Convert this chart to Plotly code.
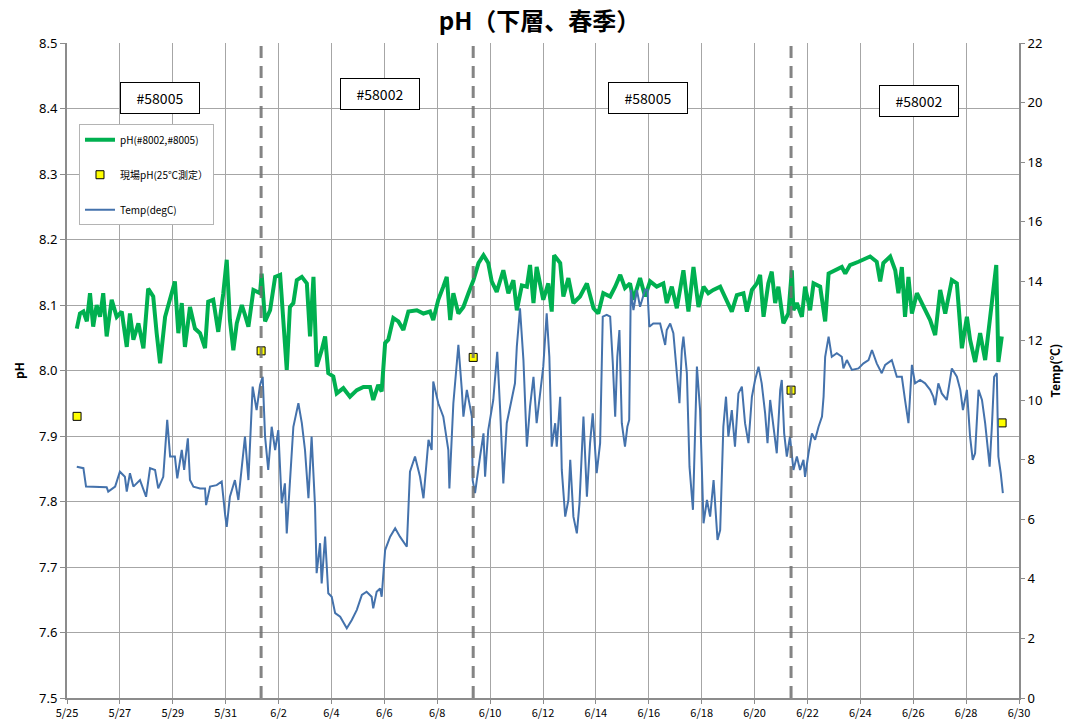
import pandas as pd
import plotly.graph_objects as go

# Elapsed time in days from 5/25 00:00
base = pd.Timestamp("2021-05-25")

ph_days = [
    0.37, 0.49, 0.62, 0.75, 0.87, 0.99, 1.12, 1.25, 1.37, 1.50,
    1.69, 1.88, 2.07, 2.26, 2.38, 2.51, 2.70, 2.89, 3.07, 3.26,
    3.39, 3.52, 3.71, 3.90, 4.08, 4.21, 4.34, 4.46, 4.65, 4.84,
    5.03, 5.22, 5.34, 5.53, 5.72, 5.91, 6.04, 6.16, 6.29, 6.42,
    6.61, 6.73, 6.86, 7.05, 7.30, 7.36, 7.49, 7.68, 7.87, 8.06,
    8.18, 8.31, 8.43, 8.56, 8.69, 8.88, 9.07, 9.19, 9.32, 9.44,
    9.63, 9.76, 9.88, 10.07, 10.20, 10.45, 10.70, 10.96, 11.21, 11.46,
    11.58, 11.77, 11.90, 12.03, 12.15, 12.34, 12.53, 12.72, 12.91, 13.23,
    13.48, 13.73, 13.85, 14.04, 14.23, 14.36, 14.49, 14.61, 14.80, 14.99,
    15.18, 15.37, 15.56, 15.75, 15.93, 16.06, 16.25, 16.50, 16.69, 16.88,
    17.01, 17.20, 17.39, 17.51, 17.64,
    17.76, 18.01, 18.20, 18.33, 18.42, 18.65, 18.77, 18.96, 19.15, 19.40,
    19.66, 19.91, 20.09, 20.28, 20.54, 20.73, 20.92, 21.10, 21.29, 21.42,
    21.67, 21.86, 22.05, 22.30, 22.55, 22.68, 22.87, 23.06, 23.31, 23.50,
    23.69, 23.88, 24.07, 24.25, 24.44, 24.70, 24.95, 25.14, 25.33, 25.58,
    25.71, 25.90, 26.09, 26.21, 26.34, 26.52, 26.65, 26.78, 26.90, 27.09,
    27.28, 27.41, 27.47, 27.60, 27.79, 27.91, 28.10, 28.23, 28.48, 28.67,
    28.80, 29.05, 29.30, 29.43, 29.61, 29.93, 30.12, 30.37, 30.62, 30.75,
    30.87, 31.13, 31.32, 31.44, 31.57, 31.69, 31.82, 31.95, 32.14, 32.39,
    32.64, 32.83, 33.02, 33.21, 33.33, 33.46, 33.65, 33.84, 34.03, 34.15,
    34.34, 34.53, 34.72, 34.91, 35.03, 35.14, 35.22, 35.35,
]
ph_values = [
    8.064, 8.087, 8.090, 8.075, 8.118, 8.067, 8.100, 8.082, 8.118, 8.052,
    8.108, 8.082, 8.090, 8.036, 8.087, 8.047, 8.072, 8.034, 8.125, 8.113,
    8.057, 8.011, 8.082, 8.108, 8.136, 8.057, 8.103, 8.036, 8.097, 8.064,
    8.057, 8.034, 8.105, 8.108, 8.059, 8.118, 8.169, 8.077, 8.031, 8.072,
    8.100, 8.085, 8.067, 8.123, 8.118, 8.148, 8.075, 8.092, 8.143, 8.146,
    8.082, 8.001, 8.097, 8.103, 8.138, 8.143, 8.133, 8.052, 8.143, 8.006,
    8.031, 8.052, 7.996, 7.991, 7.965, 7.973, 7.960, 7.970, 7.975, 7.975,
    7.955, 7.978, 7.968, 8.042, 8.047, 8.080, 8.075, 8.062, 8.090, 8.092,
    8.087, 8.090, 8.077, 8.108, 8.128, 8.143, 8.077, 8.118, 8.087, 8.097,
    8.118, 8.138, 8.164, 8.176, 8.164, 8.136, 8.120, 8.153, 8.118, 8.138,
    8.092, 8.130, 8.128, 8.161, 8.103,
    8.158, 8.108, 8.133, 8.090, 8.176, 8.164, 8.113, 8.141, 8.103, 8.113,
    8.133, 8.095, 8.087, 8.118, 8.113, 8.128, 8.146, 8.126, 8.133, 8.108,
    8.141, 8.113, 8.136, 8.128, 8.133, 8.103, 8.128, 8.095, 8.153, 8.090,
    8.158, 8.097, 8.128, 8.118, 8.123, 8.128, 8.108, 8.090, 8.115, 8.118,
    8.090, 8.123, 8.133, 8.146, 8.082, 8.133, 8.151, 8.103, 8.128, 8.072,
    8.087, 8.153, 8.092, 8.103, 8.082, 8.128, 8.092, 8.133, 8.128, 8.075,
    8.148, 8.153, 8.158, 8.148, 8.161, 8.166, 8.169, 8.174, 8.166, 8.136,
    8.164, 8.174, 8.153, 8.118, 8.158, 8.082, 8.143, 8.087, 8.118, 8.097,
    8.077, 8.054, 8.123, 8.087, 8.110, 8.138, 8.133, 8.034, 8.082, 8.047,
    8.013, 8.057, 8.016, 8.087, 8.118, 8.161, 8.013, 8.052,
]

temp_days = [
    0.37, 0.62, 0.72, 0.99, 1.50, 1.56, 1.82, 2.00, 2.19, 2.26,
    2.38, 2.51, 2.76, 2.99, 3.14, 3.33, 3.45, 3.64, 3.79, 3.90,
    4.08, 4.17, 4.34, 4.43, 4.57, 4.65, 4.78, 5.03, 5.22, 5.26,
    5.41, 5.66, 5.85, 5.98, 6.04, 6.16, 6.35, 6.48, 6.61, 6.73,
    6.86, 7.02, 7.17, 7.30, 7.40, 7.49, 7.61, 7.74, 7.87, 7.99,
    8.12, 8.24, 8.31, 8.43, 8.56, 8.75, 8.88, 9.00, 9.13, 9.25,
    9.38, 9.44, 9.57, 9.63, 9.76, 9.88, 10.01, 10.14, 10.33, 10.58,
    10.77, 10.96, 11.15, 11.33, 11.52, 11.58, 11.71, 11.84, 11.90, 12.03,
    12.22, 12.41, 12.59, 12.85, 12.97, 13.16, 13.35, 13.48, 13.67, 13.79,
    13.85, 14.04, 14.23, 14.42, 14.46, 14.61, 14.80, 14.93, 14.99, 15.12,
    15.31, 15.34, 15.43, 15.62, 15.75, 15.81, 15.93, 16.12, 16.27, 16.38,
    16.50, 16.63, 16.76, 16.94, 17.01, 17.13, 17.26, 17.39, 17.51, 17.64,
    17.76, 17.89,
    18.01, 18.14, 18.24, 18.33, 18.46, 18.52, 18.65, 18.71, 18.84, 18.96,
    19.03, 19.15, 19.28, 19.38, 19.53, 19.66, 19.78, 19.88, 20.03, 20.16,
    20.26, 20.41, 20.54, 20.64, 20.73, 20.81, 20.89, 20.98, 21.10, 21.19,
    21.26, 21.32, 21.42, 21.55, 21.67, 21.86, 21.95, 22.02, 22.17, 22.43,
    22.62, 22.68, 22.81, 22.93, 23.06, 23.16, 23.25, 23.31, 23.44, 23.54,
    23.67, 23.75, 23.82, 23.94, 24.01, 24.07, 24.20, 24.32, 24.45, 24.51,
    24.60, 24.70, 24.76, 24.82, 24.92, 25.01, 25.14, 25.26, 25.39, 25.52,
    25.64, 25.77, 25.90, 26.02, 26.15, 26.27, 26.40, 26.49, 26.59, 26.71,
    26.84, 26.97, 27.03, 27.12, 27.22, 27.34, 27.47, 27.60, 27.72, 27.85,
    27.91, 28.04, 28.17, 28.29, 28.42, 28.55, 28.61, 28.67, 28.80, 28.92,
    29.11, 29.30, 29.36, 29.49, 29.68, 29.93, 30.12, 30.31, 30.44, 30.62,
    30.81, 30.94, 31.19, 31.38, 31.57, 31.69, 31.82, 31.95, 32.07, 32.26,
    32.45, 32.64, 32.76, 32.83, 32.95, 33.08, 33.27, 33.46, 33.65, 33.78,
    33.88, 34.03, 34.15, 34.25, 34.34, 34.47, 34.60, 34.72, 34.89, 34.98,
    35.06, 35.16, 35.22, 35.31, 35.39,
]
temp_values = [
    7.77, 7.72, 7.10, 7.10, 7.08, 6.93, 7.10, 7.60, 7.43, 6.93,
    7.55, 7.10, 7.32, 6.76, 7.72, 7.66, 7.04, 7.43, 9.34, 8.11,
    8.11, 7.38, 8.33, 7.66, 8.72, 7.32, 7.10, 7.04, 7.04, 6.48,
    7.10, 7.15, 7.27, 6.15, 5.75, 6.76, 7.32, 6.65, 7.88, 8.78,
    7.32, 10.46, 9.67, 10.51, 10.79, 8.78, 7.66, 9.11, 8.33, 9.00,
    6.54, 7.21, 5.53, 7.21, 9.11, 9.90, 9.23, 8.33, 6.71, 8.78,
    6.43, 4.19, 5.20, 3.85, 5.42, 3.52, 3.40, 2.85, 2.73, 2.34,
    2.62, 2.96, 3.46, 3.57, 3.40, 3.01, 3.57, 3.68, 3.40, 4.97,
    5.42, 5.70, 5.42, 5.08, 7.60, 8.11, 7.43, 6.71, 8.67, 8.33,
    10.63, 9.90, 9.45, 8.33, 7.04, 9.90, 11.86, 10.35, 9.45, 10.35,
    9.45, 7.32, 6.88, 8.11, 8.89, 7.43, 9.00, 10.01, 11.63, 9.67,
    7.21, 9.23, 9.79, 10.57, 11.80, 13.09, 11.35, 8.44, 9.79, 10.79,
    9.23, 10.12,
    11.13, 12.92, 11.46, 8.44, 9.23, 8.44, 10.12, 7.66, 6.09, 6.65,
    8.00, 6.09, 5.53, 6.54, 9.45, 6.76, 8.56, 9.56, 7.55, 8.56,
    12.81, 12.87, 12.81, 11.24, 9.45, 11.46, 12.36, 9.23, 8.44, 9.11,
    9.34, 13.71, 13.03, 13.71, 13.14, 13.71, 13.71, 12.47, 12.58, 12.58,
    11.86, 12.36, 12.58, 12.25, 11.02, 9.90, 11.69, 12.14, 10.91, 7.77,
    6.32, 8.78, 11.13, 9.67, 7.77, 5.87, 6.65, 6.09, 7.32, 6.54,
    5.31, 5.64, 7.77, 9.11, 10.12, 8.78, 9.67, 8.44, 10.23, 10.46,
    9.23, 8.56, 10.12, 10.68, 11.13, 10.57, 9.56, 8.56, 10.01, 9.23,
    8.22, 10.35, 10.68, 8.89, 8.11, 8.78, 7.66, 8.11, 7.66, 8.00,
    7.43, 8.22, 8.89, 8.67, 9.11, 9.45, 10.12, 11.46, 12.14, 11.46,
    11.58, 11.46, 11.07, 11.35, 11.02, 11.07, 11.24, 11.35, 11.69, 11.24,
    10.91, 11.19, 11.35, 10.79, 10.79, 10.01, 9.23, 11.19, 10.57, 10.68,
    10.57, 10.35, 10.12, 9.84, 10.57, 10.23, 10.01, 11.07, 10.79, 10.35,
    9.67, 10.35, 8.78, 8.00, 8.22, 10.35, 10.01, 9.23, 7.77, 9.23,
    10.79, 10.91, 8.11, 7.55, 6.88,
]

# On-site pH measurements (25℃) and sensor exchange times
sample_days = [0.38, 7.34, 15.36, 27.38, 35.36]
sample_ph = [7.93, 8.03, 8.02, 7.97, 7.92]
swap_days = [7.34, 15.36, 27.38]

# Sensor IDs for each deployment period
period_labels = ["#58005", "#58002", "#58005", "#58002"]
period_label_days = [3.52, 11.82, 21.97, 32.20]
period_label_y = [0.9405, 0.9466, 0.9405, 0.9359]


def to_time(days):
    return base + pd.to_timedelta(days, unit="D")


JP = "Noto Sans CJK JP"
GRID = "#a6a6a6"
AXIS = "#8c8c8c"

fig = go.Figure()

fig.add_trace(go.Scatter(
    x=to_time(ph_days), y=ph_values, mode="lines",
    name="pH(#8002,#8005)", legendgroup="a",
    line=dict(color="#00B050", width=4),
))
fig.add_trace(go.Scatter(
    x=to_time(sample_days), y=sample_ph, mode="markers",
    name="現場pH(25℃測定）", legendgroup="b",
    marker=dict(symbol="square", size=8, color="#FFFF00",
                line=dict(color="#000000", width=1)),
))
fig.add_trace(go.Scatter(
    x=to_time(temp_days), y=temp_values, mode="lines",
    name="Temp(degC)", legendgroup="c", yaxis="y2",
    line=dict(color="#4472AC", width=2),
))

for d in swap_days:
    t = to_time(d)
    fig.add_shape(type="line", xref="x", yref="paper", x0=t, x1=t, y0=0, y1=1,
                  line=dict(color="rgba(110,110,110,0.85)", width=3, dash="12px,8px"),
                  layer="above")

for label, d, yp in zip(period_labels, period_label_days, period_label_y):
    fig.add_annotation(
        x=to_time(d), xref="x", y=yp, yref="paper", text=label, showarrow=False,
        font=dict(family=JP, size=14, color="#000000"),
        bgcolor="#ffffff", bordercolor="#000000", borderwidth=1,
        width=74, height=26, borderpad=2,
    )

fig.update_layout(
    width=1079, height=720,
    margin=dict(l=67, r=60, t=43, b=22),
    paper_bgcolor="#ffffff", plot_bgcolor="#ffffff",
    title=dict(text="<b>pH（下層、春季）</b>", x=0.5, xanchor="center",
               y=1 - 22 / 720, yanchor="middle", yref="container",
               font=dict(family=JP, size=24, color="#000000")),
    font=dict(family=JP, color="#000000"),
    legend=dict(x=0.0126, y=0.876, xanchor="left", yanchor="top",
                bgcolor="#ffffff", bordercolor="#b4b4b4", borderwidth=1,
                font=dict(family=JP, size=10, color="#000000"),
                tracegroupgap=16, itemwidth=30),
    showlegend=True,
    xaxis=dict(
        type="date", automargin=False,
        range=[to_time(0), to_time(36)],
        dtick=2 * 86400000, tick0=to_time(0), tickformat="%-m/%-d",
        showgrid=True, gridcolor=GRID, gridwidth=1,
        showline=True, linecolor=AXIS, linewidth=2,
        ticks="outside", ticklen=4, tickcolor=AXIS,
        tickfont=dict(family=JP, size=11, color="#000000"),
        zeroline=False,
    ),
    yaxis=dict(
        automargin=False,
        range=[7.5, 8.5], dtick=0.1, tickformat=".1f",
        showgrid=True, gridcolor=GRID, gridwidth=1,
        showline=True, linecolor=AXIS, linewidth=2,
        ticks="outside", ticklen=5, tickcolor=AXIS,
        tickfont=dict(family="Noto Sans", size=13, color="#000000"),
        title=dict(text="<b>pH</b>", font=dict(family=JP, size=12, color="#000000"),
                   standoff=12),
        zeroline=False,
    ),
    yaxis2=dict(
        overlaying="y", side="right", automargin=False,
        range=[0, 22], dtick=2,
        showgrid=False,
        showline=True, linecolor=AXIS, linewidth=2,
        ticks="outside", ticklen=4, tickcolor=AXIS,
        tickfont=dict(family="Noto Sans", size=13, color="#000000"),
        title=dict(text="<b>Temp(℃)</b>", font=dict(family=JP, size=12, color="#000000"),
                   standoff=10),
        zeroline=False,
    ),
)

fig.write_html("out.html")
